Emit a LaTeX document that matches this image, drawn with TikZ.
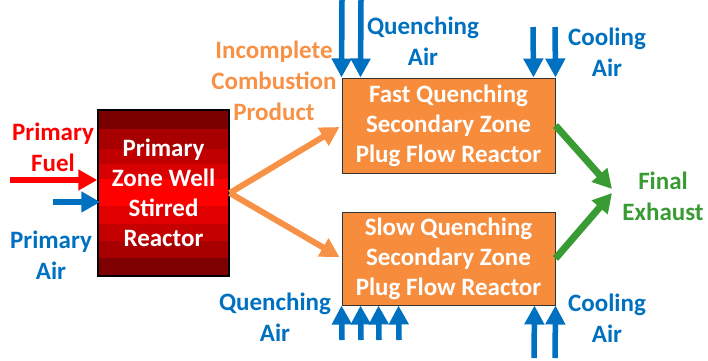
\documentclass[tikz,border=0pt]{standalone}
\usepackage{fontspec}
\setmainfont{Carlito}
\usetikzlibrary{arrows.meta}
\definecolor{qblue}{RGB}{0,112,192}
\definecolor{qred}{RGB}{255,0,0}
\definecolor{qgreen}{RGB}{56,155,52}
\definecolor{qorange}{RGB}{247,145,70}
\definecolor{boxorange}{RGB}{246,140,60}
\begin{document}
\begin{tikzpicture}[x=1pt,y=-1pt,
  lbl/.style={font=\fontsize{25}{31}\selectfont\bfseries, align=center, inner sep=0pt},
  boxtxt/.style={font=\fontsize{25}{30}\selectfont\bfseries, align=center, inner sep=0pt, text=white},
  arr/.style={line width=6pt, -{Triangle[length=19pt,width=20pt]}},
  varr/.style={line width=5.5pt, -{Triangle[length=19pt,width=19pt]}, qblue}]
\useasboundingbox (0,0) rectangle (708,360);
% striped primary reactor
\foreach \ya/\yb/\c in {110/129/7A0000, 129/149/A80000, 149/164/C00000, 164/179/D80000, 179/193/FF0000, 193/206/FF0000, 206/224/E00000, 224/241/C40000, 241/258/A80000, 258/276/7E0000}{
  \definecolor{tmpc}{HTML}{\c}
  \fill[tmpc] (98,\ya) rectangle (229,\yb);
  \draw[black!80, line width=0.8pt] (98,\yb) -- (229,\yb);
}
\node[boxtxt, draw=black, line width=1.5pt, minimum width=131pt, minimum height=166pt] (psr) at (163.5,193) {Primary\\Zone Well\\Stirred\\Reactor};
% secondary reactors
\node[boxtxt, draw=black!80, line width=1pt, fill=boxorange, minimum width=213pt, minimum height=95pt] (fast) at (448.5,125.5) {Fast Quenching\\Secondary Zone\\Plug Flow Reactor};
\node[boxtxt, draw=black!80, line width=1pt, fill=boxorange, minimum width=213pt, minimum height=93pt] (slow) at (448.5,258.5) {Slow Quenching\\Secondary Zone\\Plug Flow Reactor};
% labels
\node[lbl, text=qred] (fuel) at (53,147) {Primary\\Fuel};
\node[lbl, text=qblue] (pair) at (51,255) {Primary\\Air};
\node[lbl, text=qblue] (qtop) at (423,41) {Quenching\\Air};
\node[lbl, text=qblue] (ctop) at (607,52) {Cooling\\Air};
\node[lbl, text=qorange] (icp) at (274,81) {Incomplete\\Combustion\\Product};
\node[lbl, text=qblue] (qbot) at (275,317) {Quenching\\Air};
\node[lbl, text=qblue] (cbot) at (607,318) {Cooling\\Air};
\node[lbl, text=qgreen] (fex) at (663,196) {Final\\Exhaust};
% free ends
\coordinate (fuelS) at (10,180);
\coordinate (airS) at (53,202);
\coordinate (qt1) at (342,0);
\coordinate (qt2) at (361,0);
\coordinate (ct1) at (533,27);
\coordinate (ct2) at (555,27);
\coordinate (qb1) at (342,340);
\coordinate (qb2) at (361,340);
\coordinate (qb3) at (379,340);
\coordinate (qb4) at (399,340);
\coordinate (cb1) at (534,358);
\coordinate (cb2) at (555,358);
\coordinate (exU) at (612,189);
\coordinate (exL) at (612,193);
% primary inputs
\draw[arr, qred] (fuelS) -- ([yshift=13pt]psr.west);
\draw[arr, qblue] (airS) -- ([xshift=3pt,yshift=-9pt]psr.west);
% products
\draw[arr, qorange] (psr.east) -- ([xshift=-2pt,yshift=-1.5pt]fast.west);
\draw[arr, qorange] (psr.east) -- ([xshift=-2pt,yshift=1.5pt]slow.west);
% quenching / cooling air
\draw[varr] (qt1) -- (fast.north west);
\draw[varr] (qt2) -- ([xshift=19pt]fast.north west);
\draw[varr] (ct1) -- ([xshift=-22pt]fast.north east);
\draw[varr] (ct2) -- (fast.north east);
\draw[varr] (qb1) -- (slow.south west);
\draw[varr] (qb2) -- ([xshift=19pt]slow.south west);
\draw[varr] (qb3) -- ([xshift=37pt]slow.south west);
\draw[varr] (qb4) -- ([xshift=57pt]slow.south west);
\draw[varr] (cb1) -- ([xshift=-21pt]slow.south east);
\draw[varr] (cb2) -- (slow.south east);
% exhaust
\draw[arr, qgreen, line width=7pt] (fast.east) -- (exU);
\draw[arr, qgreen, line width=7pt] (slow.east) -- (exL);
\end{tikzpicture}
\end{document}
